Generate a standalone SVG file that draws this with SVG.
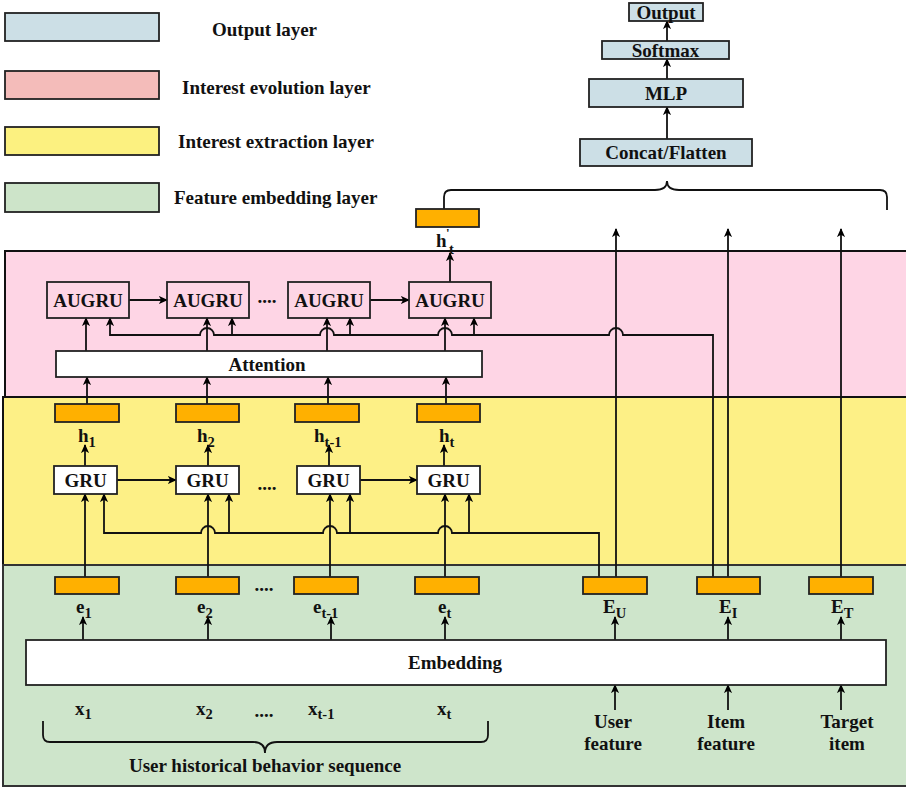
<svg xmlns="http://www.w3.org/2000/svg" width="906" height="787" viewBox="0 0 906 787">
<defs>
<marker id="ah" viewBox="0 0 10 10" markerWidth="9" markerHeight="9" refX="9" refY="5" orient="auto" markerUnits="userSpaceOnUse">
<path d="M0,0.5 L10,5 L0,9.5 L2.5,5 z" fill="#000"/>
</marker>
<style>
text{font-family:"Liberation Serif","Times New Roman",serif;font-weight:bold;fill:#111;font-size:19px}
.mid{text-anchor:middle}
.sub{font-size:14.5px}
.box{stroke:#222;stroke-width:1.8}
.w{fill:#fff}
.o{fill:#FFB000}
.b{fill:#CCDFE6}
.t{fill:none}
.ln{fill:none;stroke:#111;stroke-width:1.8}
.ar{fill:none;stroke:#111;stroke-width:1.8;marker-end:url(#ah)}
</style>
</defs>

<g id="layers">
<rect x="5" y="251" width="910" height="146" fill="#FED5E5" stroke="#111" stroke-width="2"/>
<rect x="3" y="397" width="912" height="168" fill="#FDF086" stroke="#111" stroke-width="2"/>
<rect x="3" y="565" width="912" height="221" fill="#CEE5CB" stroke="#333" stroke-width="2"/>
</g>

<g id="legend">
<rect class="box" x="5" y="13" width="154" height="28" fill="#CCDFE6"/>
<rect class="box" x="5" y="71" width="154" height="28" fill="#F4BCBA"/>
<rect class="box" x="5" y="127" width="154" height="28" fill="#FCF180"/>
<rect class="box" x="5" y="183" width="154" height="29" fill="#CDE4C9"/>
<text x="212" y="36">Output layer</text>
<text x="182" y="94">Interest evolution layer</text>
<text x="178" y="148">Interest extraction layer</text>
<text x="174" y="204">Feature embedding layer</text>
</g>

<g id="connectors">
<path class="ar" d="M667,139 V107"/>
<path class="ar" d="M667,79 V59"/>
<path class="ar" d="M667,41 V21"/>
<path class="ln" d="M444,209 V197 Q444,190 451,190 H655 Q667,190 667,181 Q667,190 679,190 H880 Q887,190 887,197 V210"/>
<path class="ar" d="M616,577 V229"/>
<path class="ar" d="M728,577 V229"/>
<path class="ar" d="M841,577 V229"/>
<path class="ar" d="M129,300 H167"/>
<path class="ar" d="M370,300 H409"/>
<path class="ar" d="M450,282 V253"/>
<path class="ar" d="M86,351 V318"/>
<path class="ar" d="M207,351 V318"/>
<path class="ar" d="M327,351 V318"/>
<path class="ar" d="M445,351 V318"/>
<path class="ar" d="M713,577 V335 H623 A7,7 0 0 0 609,335 H452 A7,7 0 0 0 438,335 H334 A7,7 0 0 0 320,335 H214 A7,7 0 0 0 200,335 H110 V318"/>
<path class="ar" d="M232,335 V318"/>
<path class="ar" d="M350,335 V318"/>
<path class="ar" d="M474,335 V318"/>
<path class="ar" d="M87,404 V377"/>
<path class="ar" d="M207,404 V377"/>
<path class="ar" d="M328,404 V377"/>
<path class="ar" d="M446,404 V377"/>
<path class="ar" d="M117,480 H176"/>
<path class="ar" d="M360,480 H417"/>
<path class="ar" d="M85,466 V445"/>
<path class="ar" d="M208,466 V445"/>
<path class="ar" d="M329,466 V445"/>
<path class="ar" d="M444,466 V445"/>
<path class="ar" d="M85,577 V494"/>
<path class="ar" d="M208,577 V494"/>
<path class="ar" d="M330,577 V494"/>
<path class="ar" d="M445,577 V494"/>
<path class="ar" d="M599,577 V533 H452 A7,7 0 0 0 438,533 H337 A7,7 0 0 0 323,533 H215 A7,7 0 0 0 201,533 H104 V494"/>
<path class="ar" d="M229,533 V494"/>
<path class="ar" d="M350,533 V494"/>
<path class="ar" d="M469,533 V494"/>
<path class="ar" d="M83,640 V617"/>
<path class="ar" d="M208,640 V617"/>
<path class="ar" d="M331,640 V617"/>
<path class="ar" d="M445,640 V617"/>
<path class="ar" d="M615,640 V617"/>
<path class="ar" d="M728,640 V617"/>
<path class="ar" d="M841,640 V617"/>
<path class="ar" d="M615,710 V685"/>
<path class="ar" d="M728,710 V685"/>
<path class="ar" d="M841,710 V685"/>
<path class="ln" d="M43,721 V735 Q43,742 50,742 H253 Q265,742 265,753 Q265,742 277,742 H481 Q488,742 488,735 V721"/>
</g>

<g id="output">
<rect class="box b" x="629" y="3" width="74" height="18"/>
<text class="mid" x="666" y="18.5">Output</text>
</g>
<g id="softmax">
<rect class="box b" x="602" y="41" width="127" height="18"/>
<text class="mid" x="665.5" y="56.5">Softmax</text>
</g>
<g id="mlp">
<rect class="box b" x="589" y="79" width="154" height="28"/>
<text class="mid" x="666" y="99.5">MLP</text>
</g>
<g id="concat">
<rect class="box b" x="580" y="139" width="172" height="27"/>
<text class="mid" x="666" y="159">Concat/Flatten</text>
</g>

<g id="h_final">
<rect class="box o" x="416" y="209" width="63" height="18"/>
<text x="436" y="247">h</text>
<text x="446" y="237" style="font-size:13px">'</text>
<text class="sub" x="449" y="254">t</text>
</g>

<g id="augru1"><rect class="box t" x="47" y="282" width="82" height="36"/><text class="mid" x="88" y="306.5">AUGRU</text></g>
<g id="augru2"><rect class="box t" x="167" y="282" width="82" height="36"/><text class="mid" x="208" y="306.5">AUGRU</text></g>
<g id="augru_dots"><text class="mid" x="267" y="303">....</text></g>
<g id="augru3"><rect class="box t" x="288" y="282" width="82" height="36"/><text class="mid" x="329" y="306.5">AUGRU</text></g>
<g id="augru4"><rect class="box t" x="409" y="282" width="82" height="36"/><text class="mid" x="450" y="306.5">AUGRU</text></g>

<g id="attention">
<rect class="box w" x="56" y="351" width="426" height="26"/>
<text class="mid" x="267" y="370.5">Attention</text>
</g>

<g id="h1"><rect class="box o" x="55" y="404" width="64" height="18"/><text x="78" y="442">h<tspan class="sub" dy="5">1</tspan></text></g>
<g id="h2"><rect class="box o" x="176" y="404" width="63" height="18"/><text x="197" y="442">h<tspan class="sub" dy="5">2</tspan></text></g>
<g id="h3"><rect class="box o" x="295" y="404" width="64" height="18"/><text x="314" y="442">h<tspan class="sub" dy="5">t-1</tspan></text></g>
<g id="h4"><rect class="box o" x="417" y="404" width="63" height="18"/><text x="439" y="442">h<tspan class="sub" dy="5">t</tspan></text></g>

<g id="gru1"><rect class="box w" x="54" y="466" width="63" height="28"/><text class="mid" x="85.5" y="486.5">GRU</text></g>
<g id="gru2"><rect class="box w" x="176" y="466" width="63" height="28"/><text class="mid" x="207.5" y="486.5">GRU</text></g>
<g id="gru_dots"><text class="mid" x="267" y="490">....</text></g>
<g id="gru3"><rect class="box w" x="297" y="466" width="63" height="28"/><text class="mid" x="328.5" y="486.5">GRU</text></g>
<g id="gru4"><rect class="box w" x="417" y="466" width="63" height="28"/><text class="mid" x="448.5" y="486.5">GRU</text></g>

<g id="e1"><rect class="box o" x="55" y="577" width="64" height="17"/><text x="76" y="613">e<tspan class="sub" dy="5">1</tspan></text></g>
<g id="e2"><rect class="box o" x="176" y="577" width="63" height="17"/><text x="197" y="613">e<tspan class="sub" dy="5">2</tspan></text></g>
<g id="e_dots"><text class="mid" x="264" y="591">....</text></g>
<g id="e3"><rect class="box o" x="294" y="577" width="64" height="17"/><text x="313" y="613">e<tspan class="sub" dy="5">t-1</tspan></text></g>
<g id="e4"><rect class="box o" x="415" y="577" width="64" height="17"/><text x="438" y="613">e<tspan class="sub" dy="5">t</tspan></text></g>
<g id="eu"><rect class="box o" x="583" y="577" width="64" height="17"/><text x="603" y="613">E<tspan class="sub" dy="5">U</tspan></text></g>
<g id="ei"><rect class="box o" x="697" y="577" width="63" height="17"/><text x="719" y="613">E<tspan class="sub" dy="5">I</tspan></text></g>
<g id="et"><rect class="box o" x="809" y="577" width="64" height="17"/><text x="831" y="613">E<tspan class="sub" dy="5">T</tspan></text></g>

<g id="embedding">
<rect class="box w" x="26" y="640" width="860" height="45"/>
<text class="mid" x="455" y="669">Embedding</text>
</g>

<g id="inputs">
<text x="75" y="715">x<tspan class="sub" dy="4">1</tspan></text>
<text x="196" y="715">x<tspan class="sub" dy="4">2</tspan></text>
<text class="mid" x="264" y="717">....</text>
<text x="308" y="715">x<tspan class="sub" dy="4">t-1</tspan></text>
<text x="437" y="715">x<tspan class="sub" dy="4">t</tspan></text>
<text class="mid" x="265" y="772">User historical behavior sequence</text>
</g>
<g id="user_feature"><text class="mid" x="613" y="728">User</text><text class="mid" x="613" y="750">feature</text></g>
<g id="item_feature"><text class="mid" x="726" y="728">Item</text><text class="mid" x="726" y="750">feature</text></g>
<g id="target_item"><text class="mid" x="847" y="728">Target</text><text class="mid" x="847" y="750">item</text></g>
</svg>
